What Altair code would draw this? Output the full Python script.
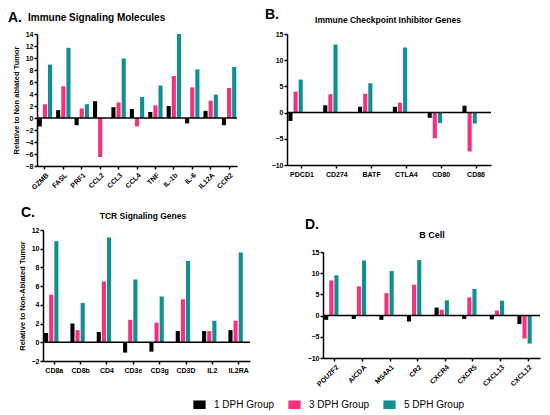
import altair as alt
import pandas as pd

groups = ["1 DPH Group", "3 DPH Group", "5 DPH Group"]
colors = ["#000000", "#F5317F", "#0F9090"]
FONT = "Liberation Sans"

# Panel A: Immune Signaling Molecules
a_genes = ["GZMB", "FASL", "PRF1", "CCL2", "CCL3", "CCL4", "TNF", "IL-1b", "IL-6", "IL12A", "CCR2"]
a_d1 = [-1.4, 1.3, -1.2, 2.8, 1.8, 1.5, 1.0, 2.0, -0.9, 1.2, -1.2]
a_d3 = [2.3, 5.3, 1.6, -6.5, 2.6, -1.4, 2.1, 7.0, 5.1, 2.9, 5.0]
a_d5 = [8.9, 11.7, 2.3, 0.0, 9.9, 3.5, 5.4, 14.0, 8.1, 3.9, 8.5]

# Panel B: Immune Checkpoint Inhibitor Genes
b_genes = ["PDCD1", "CD274", "BATF", "CTLA4", "CD80", "CD86"]
b_d1 = [-1.6, 1.4, 1.1, 1.1, -1.0, 1.3]
b_d3 = [4.0, 3.5, 3.6, 1.9, -4.9, -7.4]
b_d5 = [6.3, 13.0, 5.6, 12.4, -2.0, -2.1]

# Panel C: TCR Signaling Genes
c_genes = ["CD8a", "CD8b", "CD4", "CD3e", "CD3g", "CD3D", "IL2", "IL2RA"]
c_d1 = [1.0, 2.0, 1.1, -1.1, -1.0, 1.2, 1.2, 1.3]
c_d3 = [5.1, 1.3, 6.5, 2.4, 2.1, 4.6, 1.2, 2.3]
c_d5 = [10.8, 4.2, 11.2, 6.7, 4.9, 8.7, 2.3, 9.6]

# Panel D: B Cell
d_genes = ["POU2F2", "AICDA", "MS4A1", "CR2", "CXCR4", "CXCR5", "CXCL13", "CXCL12"]
d_d1 = [-1.0, -0.8, -1.0, -1.4, 1.9, -0.8, -0.9, -2.0]
d_d3 = [8.3, 6.9, 5.3, 7.3, 1.4, 4.3, 1.2, -5.4]
d_d5 = [9.5, 13.0, 10.5, 13.1, 3.6, 6.3, 3.5, -6.6]


def make_df(genes, d1, d3, d5):
    rows = []
    for g, v1, v3, v5 in zip(genes, d1, d3, d5):
        for grp, v in zip(groups, (v1, v3, v5)):
            rows.append({"gene": g, "group": grp, "value": v})
    return pd.DataFrame(rows)


def text_layer(txt, x, y, size, align="left"):
    return alt.Chart(pd.DataFrame({"t": [txt]})).mark_text(
        align=align, baseline="middle", font=FONT, fontSize=size,
        fontWeight="bold", color="black"
    ).encode(text="t:N", x=alt.value(x), y=alt.value(y))


def panel(genes, d1, d3, d5, ymin, ymax, ystep, pw, ph, ytitle,
          angle, texts, offpad, xoff=0, yoff=0):
    df = make_df(genes, d1, d3, d5)
    width = xoff + pw
    height = yoff + ph
    xaxis = alt.Axis(
        title=None, labelAngle=angle, labelFontSize=7, labelFont=FONT,
        labelFontWeight="bold", labelColor="black", domainColor="black",
        domainWidth=1.5, tickColor="black", tickWidth=1.5, tickSize=3,
        labelPadding=2,
    )
    yaxis_kw = dict(
        values=list(range(ymin, ymax + 1, ystep)),
        grid=False, labelFontSize=7, labelFont=FONT, labelFontWeight="bold",
        labelColor="black", labelOverlap=False, domainColor="black",
        domainWidth=1.5, tickColor="black", tickWidth=1.5, tickSize=3,
        labelPadding=1, titleFont=FONT, titleFontSize=7.5,
        titleFontWeight="bold", titleColor="black", titlePadding=5,
    )
    yaxis_kw["title"] = ytitle if ytitle else None
    if xoff:
        yaxis_kw["offset"] = -xoff
    yaxis = alt.Axis(**yaxis_kw)
    yscale = alt.Scale(domain=[ymin, ymax], nice=False, range=[height, yoff])
    bars = alt.Chart(df).mark_bar().encode(
        x=alt.X("gene:N", sort=genes, axis=xaxis,
                scale=alt.Scale(range=[xoff, width],
                                paddingInner=0.22, paddingOuter=0.04)),
        xOffset=alt.XOffset("group:N", sort=groups,
                            scale=alt.Scale(paddingInner=offpad)),
        y=alt.Y("value:Q", axis=yaxis, scale=yscale),
        color=alt.Color(
            "group:N", sort=groups,
            scale=alt.Scale(domain=groups, range=colors),
            legend=alt.Legend(
                title=None, orient="none", direction="horizontal",
                legendX=156, legendY=364,
                symbolType="M-1,-0.7H1V0.7H-1Z", symbolSize=150,
                symbolStrokeWidth=0, labelFont=FONT, labelFontSize=10,
                labelColor="black", columnPadding=13, labelOffset=8,
            ),
        ),
    )
    zero = alt.Chart(pd.DataFrame({"value": [0]})).mark_rule(
        color="black", strokeWidth=1.5
    ).encode(y=alt.Y("value:Q", axis=yaxis, scale=yscale),
             x=alt.value(xoff), x2=alt.value(width))
    layers = [bars, zero] + [text_layer(*t) for t in texts]
    return alt.layer(*layers).properties(width=width, height=height)


pA = panel(a_genes, a_d1, a_d3, a_d5, -8, 14, 2, 200, 132,
           "Relative to Non ablated Tumor", -45,
           [("A.", -29, -16, 14), ("Immune Signaling Molecules", -9, -16, 10)],
           0.2)
pB = panel(b_genes, b_d1, b_d3, b_d5, -10, 15, 5, 204, 131, None, 0,
           [("B.", -22, -19, 14),
            ("Immune Checkpoint Inhibitor Genes", 101, -14, 8.5, "center")],
           0.35)
pC = panel(c_genes, c_d1, c_d3, c_d5, -2, 12, 2, 207, 131,
           "Relative to Non-Ablated Tumor", 0,
           [("C.", -16, -17, 14), ("TCR Signaling Genes", 106, -14, 8.5, "center")],
           0.33, xoff=6)
pD = panel(d_genes, d_d1, d_d3, d_d5, -10, 15, 5, 217, 106, None, -45,
           [("D.", -18, -5, 14), ("B Cell", 109, 5, 9, "center")],
           0.3, yoff=22)

row1 = alt.hconcat(pA, pB, spacing=27)
row2 = alt.hconcat(pC, pD, spacing=54)

chart = alt.vconcat(row1, row2, spacing=15).properties(
    padding=0, background="white"
).configure_view(stroke=None).configure_axis(labelOverlap=False)

chart.save("out.html", embed_options={"renderer": "svg", "actions": False})
